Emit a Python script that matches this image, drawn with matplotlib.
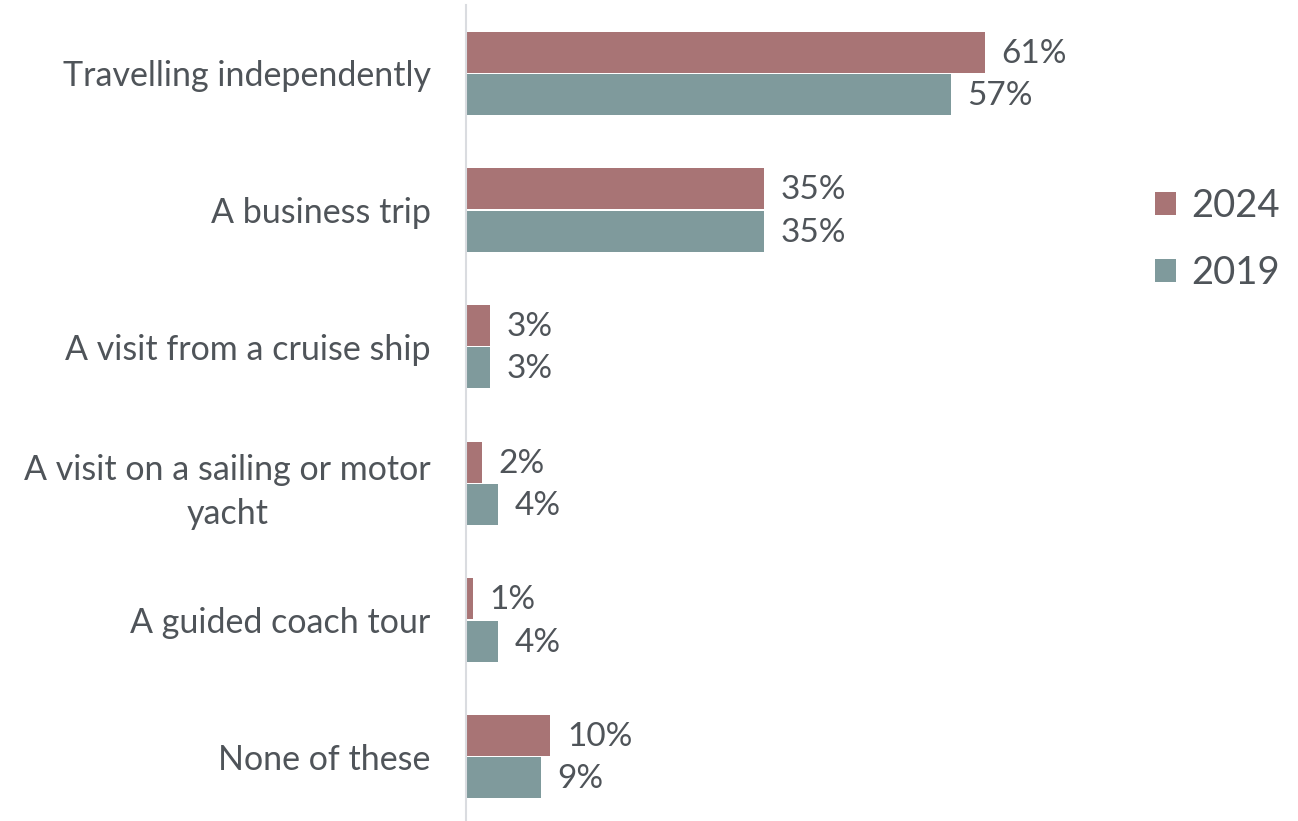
import matplotlib.pyplot as plt
import numpy as np

plt.rcParams['font.family'] = ['Lato', 'DejaVu Sans']

categories = ['Travelling independently', 'A business trip', 'A visit from a cruise ship',
              'A visit on a sailing or motor\nyacht', 'A guided coach tour', 'None of these']
vals_2024 = [61, 35, 2.8, 1.9, 0.8, 9.9]
vals_2019 = [57, 35, 2.8, 3.8, 3.8, 8.8]
labels_2024 = ['61%', '35%', '3%', '2%', '1%', '10%']
labels_2019 = ['57%', '35%', '3%', '4%', '4%', '9%']

c24 = '#A87475'
c19 = '#7F9A9C'
txt = '#4F5459'

fig = plt.figure(figsize=(12.98, 8.21), dpi=100)
ax = fig.add_axes([466 / 1298, -4 / 821, 650 / 1298, 820 / 821])

y = np.arange(len(categories))
h = 0.3
b1 = ax.barh(y - h / 2 - 0.005, vals_2024, height=h, color=c24, label='2024')
b2 = ax.barh(y + h / 2 + 0.005, vals_2019, height=h, color=c19, label='2019')

for bars, labs in [(b1, labels_2024), (b2, labels_2019)]:
    for bar, lab in zip(bars, labs):
        ax.annotate(lab, (bar.get_width(), bar.get_y() + bar.get_height() / 2),
                    xytext=(12, -1), textcoords='offset points', va='center', ha='left',
                    fontsize=24, color=txt)

ax.set_ylim(len(categories) - 0.5, -0.5)
ax.set_xlim(0, 76.4)
ax.set_yticks(y)
ax.set_yticklabels(categories, fontsize=24.5, color=txt)
ax.tick_params(axis='y', length=0, pad=25.5)
ax.set_xticks([])
for s in ['top', 'right', 'bottom']:
    ax.spines[s].set_visible(False)
ax.spines['left'].set_color('#DADCE0')
ax.spines['left'].set_linewidth(1.5)

for t in ax.get_yticklabels():
    t.set_linespacing(1.43)
    t.set_multialignment('center')

leg = fig.legend(handles=[b1, b2], loc='upper left', bbox_to_anchor=(1121 / 1298, 1 - 154 / 821),
                 frameon=False, fontsize=27.5, labelcolor=txt, handlelength=0.55, handleheight=0.55,
                 handletextpad=0.4, labelspacing=0.8)

fig.savefig('out.png', dpi=100)
